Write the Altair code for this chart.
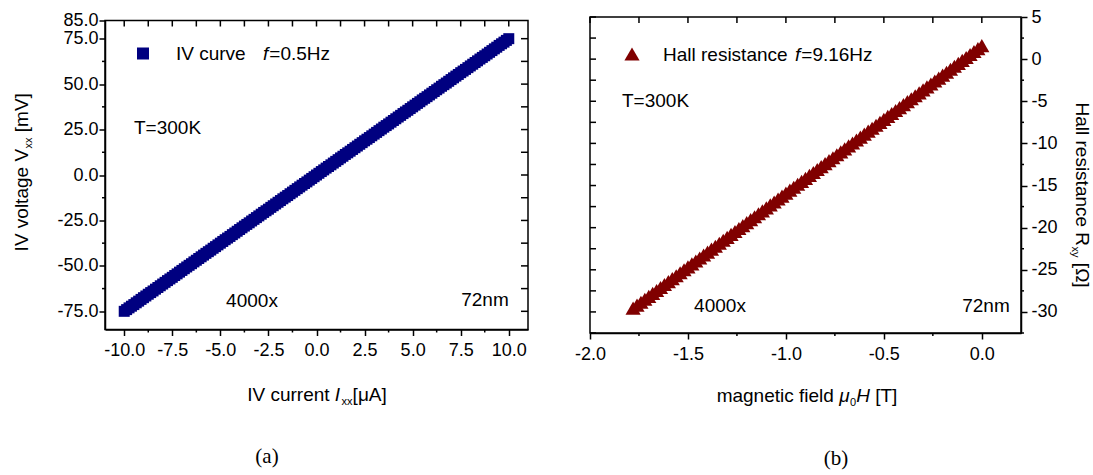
import altair as alt
import pandas as pd

# ---------------- data ----------------
# IV curve, up sweep
iv_current = [-10.0, -9.75, -9.5, -9.25, -9.0, -8.75, -8.5, -8.25, -8.0, -7.75,
              -7.5, -7.25, -7.0, -6.75, -6.5, -6.25, -6.0, -5.75, -5.5, -5.25,
              -5.0, -4.75, -4.5, -4.25, -4.0, -3.75, -3.5, -3.25, -3.0, -2.75,
              -2.5, -2.25, -2.0, -1.75, -1.5, -1.25, -1.0, -0.75, -0.5, -0.25,
              0.0, 0.25, 0.5, 0.75, 1.0, 1.25, 1.5, 1.75, 2.0, 2.25,
              2.5, 2.75, 3.0, 3.25, 3.5, 3.75, 4.0, 4.25, 4.5, 4.75,
              5.0, 5.25, 5.5, 5.75, 6.0, 6.25, 6.5, 6.75, 7.0, 7.25,
              7.5, 7.75, 8.0, 8.25, 8.5, 8.75, 9.0, 9.25, 9.5, 9.75, 10.0]
iv_voltage = [-75.0, -73.1, -71.3, -69.4, -67.5, -65.6, -63.8, -61.9, -60.0, -58.1,
              -56.3, -54.4, -52.5, -50.6, -48.8, -46.9, -45.0, -43.1, -41.3, -39.4,
              -37.5, -35.6, -33.8, -31.9, -30.0, -28.1, -26.3, -24.4, -22.5, -20.6,
              -18.8, -16.9, -15.0, -13.1, -11.3, -9.4, -7.5, -5.6, -3.8, -1.9,
              0.0, 1.9, 3.8, 5.6, 7.5, 9.4, 11.3, 13.1, 15.0, 16.9,
              18.8, 20.6, 22.5, 24.4, 26.3, 28.1, 30.0, 31.9, 33.8, 35.6,
              37.5, 39.4, 41.3, 43.1, 45.0, 46.9, 48.8, 50.6, 52.5, 54.4,
              56.3, 58.1, 60.0, 61.9, 63.8, 65.6, 67.5, 69.4, 71.3, 73.1, 75.0]
# IV curve, down sweep
iv_current_dn = [9.875, 9.625, 9.375, 9.125, 8.875, 8.625, 8.375, 8.125, 7.875, 7.625,
                 7.375, 7.125, 6.875, 6.625, 6.375, 6.125, 5.875, 5.625, 5.375, 5.125,
                 4.875, 4.625, 4.375, 4.125, 3.875, 3.625, 3.375, 3.125, 2.875, 2.625,
                 2.375, 2.125, 1.875, 1.625, 1.375, 1.125, 0.875, 0.625, 0.375, 0.125,
                 -0.125, -0.375, -0.625, -0.875, -1.125, -1.375, -1.625, -1.875, -2.125, -2.375,
                 -2.625, -2.875, -3.125, -3.375, -3.625, -3.875, -4.125, -4.375, -4.625, -4.875,
                 -5.125, -5.375, -5.625, -5.875, -6.125, -6.375, -6.625, -6.875, -7.125, -7.375,
                 -7.625, -7.875, -8.125, -8.375, -8.625, -8.875, -9.125, -9.375, -9.625, -9.875]
iv_voltage_dn = [74.06, 72.19, 70.31, 68.44, 66.56, 64.69, 62.81, 60.94, 59.06, 57.19,
                 55.31, 53.44, 51.56, 49.69, 47.81, 45.94, 44.06, 42.19, 40.31, 38.44,
                 36.56, 34.69, 32.81, 30.94, 29.06, 27.19, 25.31, 23.44, 21.56, 19.69,
                 17.81, 15.94, 14.06, 12.19, 10.31, 8.44, 6.56, 4.69, 2.81, 0.94,
                 -0.94, -2.81, -4.69, -6.56, -8.44, -10.31, -12.19, -14.06, -15.94, -17.81,
                 -19.69, -21.56, -23.44, -25.31, -27.19, -29.06, -30.94, -32.81, -34.69, -36.56,
                 -38.44, -40.31, -42.19, -44.06, -45.94, -47.81, -49.69, -51.56, -53.44, -55.31,
                 -57.19, -59.06, -60.94, -62.81, -64.69, -66.56, -68.44, -70.31, -72.19, -74.06]

hall_field = [-1.78, -1.76, -1.74, -1.72, -1.70, -1.68, -1.66, -1.64, -1.62, -1.60,
              -1.58, -1.56, -1.54, -1.52, -1.50, -1.48, -1.46, -1.44, -1.42, -1.40,
              -1.38, -1.36, -1.34, -1.32, -1.30, -1.28, -1.26, -1.24, -1.22, -1.20,
              -1.18, -1.16, -1.14, -1.12, -1.10, -1.08, -1.06, -1.04, -1.02, -1.00,
              -0.98, -0.96, -0.94, -0.92, -0.90, -0.88, -0.86, -0.84, -0.82, -0.80,
              -0.78, -0.76, -0.74, -0.72, -0.70, -0.68, -0.66, -0.64, -0.62, -0.60,
              -0.58, -0.56, -0.54, -0.52, -0.50, -0.48, -0.46, -0.44, -0.42, -0.40,
              -0.38, -0.36, -0.34, -0.32, -0.30, -0.28, -0.26, -0.24, -0.22, -0.20,
              -0.18, -0.16, -0.14, -0.12, -0.10, -0.08, -0.06, -0.04, -0.02, 0.00]
hall_res = [-29.55, -29.2, -28.85, -28.5, -28.15, -27.8, -27.45, -27.1, -26.75, -26.4,
            -26.05, -25.7, -25.35, -25.0, -24.65, -24.3, -23.95, -23.6, -23.25, -22.9,
            -22.55, -22.2, -21.85, -21.5, -21.15, -20.8, -20.45, -20.1, -19.75, -19.4,
            -19.05, -18.7, -18.35, -18.0, -17.65, -17.3, -16.95, -16.6, -16.25, -15.9,
            -15.55, -15.2, -14.85, -14.5, -14.15, -13.8, -13.45, -13.1, -12.75, -12.4,
            -12.05, -11.7, -11.35, -11.0, -10.65, -10.3, -9.95, -9.6, -9.25, -8.9,
            -8.55, -8.2, -7.85, -7.5, -7.15, -6.8, -6.45, -6.1, -5.75, -5.4,
            -5.05, -4.7, -4.35, -4.0, -3.65, -3.3, -2.95, -2.6, -2.25, -1.9,
            -1.55, -1.2, -0.85, -0.5, -0.15, 0.2, 0.55, 0.9, 1.25, 1.6]

# ---------------- tick values ----------------
iv_x_major = [-10.0, -7.5, -5.0, -2.5, 0.0, 2.5, 5.0, 7.5, 10.0]
iv_x_minor = [-8.75, -6.25, -3.75, -1.25, 1.25, 3.75, 6.25, 8.75]
iv_y_major = [-75.0, -50.0, -25.0, 0.0, 25.0, 50.0, 75.0, 85.0]
iv_y_minor = [-62.5, -37.5, -12.5, 12.5, 37.5, 62.5]
hall_x_major = [-2.0, -1.5, -1.0, -0.5, 0.0]
hall_x_minor = [-1.75, -1.25, -0.75, -0.25]
hall_y_major = [5, 0, -5, -10, -15, -20, -25, -30]
hall_y_minor = [2.5, -2.5, -7.5, -12.5, -17.5, -22.5, -27.5, -32.5]

FONT = "Liberation Sans"
FS = 19
LFS = 18
SUB = 11
SP = 0.278 * FS
W1, H1 = 423, 309
W2, H2 = 431, 316


def txt(x, y, s, size=FS, italic=False, align="left", baseline="middle", angle=0, font=FONT):
    kw = dict(align=align, baseline=baseline, fontSize=size, font=font, color="black")
    if italic:
        kw["fontStyle"] = "italic"
    if angle:
        kw["angle"] = angle
    return alt.Chart(pd.DataFrame({"t": [s]})).mark_text(**kw).encode(
        x=alt.value(x), y=alt.value(y), text="t:N")


def xticks(values, scale, y1, y2):
    return alt.Chart(pd.DataFrame({"v": values})).mark_rule(color="black", strokeWidth=1.5).encode(
        x=alt.X("v:Q", scale=scale, axis=None), y=alt.value(y1), y2=alt.value(y2))


def yticks(values, scale, x1, x2):
    return alt.Chart(pd.DataFrame({"v": values})).mark_rule(color="black", strokeWidth=1.5).encode(
        y=alt.Y("v:Q", scale=scale, axis=None), x=alt.value(x1), x2=alt.value(x2))


# ---------------- panel (a) ----------------
xs1 = alt.Scale(domain=[-11, 11], nice=False, zero=False)
ys1 = alt.Scale(domain=[-85, 85], nice=False, zero=False)

iv_df = pd.DataFrame({"I": iv_current + iv_current_dn, "V": iv_voltage + iv_voltage_dn})
iv_pts = alt.Chart(iv_df).mark_square(size=121, color="#000080", opacity=1, filled=True).encode(
    x=alt.X("I:Q", scale=xs1, axis=alt.Axis(values=iv_x_major, format=".1f", title=None,
                                             tickSize=6, labelPadding=6)),
    y=alt.Y("V:Q", scale=ys1, axis=alt.Axis(values=iv_y_major, format=".1f", title=None,
                                             tickSize=6, labelPadding=1)),
)

iv_in_x = sorted(iv_x_major + iv_x_minor)
iv_in_y = sorted([v for v in iv_y_major if v != 85.0] + iv_y_minor)

w_a = 4.613 * FS
x0 = 212 - (w_a + 0.278 * FS + 1.5 + SUB + 1.799 * FS) / 2
xt_base = 380
w_b = 5.392 * FS
ytot = w_b + SUB + 2.334 * FS
y0 = 152 + ytot / 2

left = alt.layer(
    iv_pts,
    xticks(iv_x_minor, xs1, H1, H1 + 3),
    yticks(iv_y_minor, ys1, -3, 0),
    xticks(iv_in_x, xs1, 0, 6),
    yticks(iv_in_y, ys1, W1 - 7, W1),
    alt.Chart(pd.DataFrame({"a": [0]})).mark_square(size=144, color="#000080", opacity=1, filled=True).encode(
        x=alt.value(38), y=alt.value(33)),
    txt(71, 33, "IV curve"),
    txt(158, 33, "f", italic=True),
    txt(158 + 0.278 * FS + 1, 33, "=0.5Hz"),
    txt(29, 107, "T=300K"),
    txt(147, 280, "4000x", align="center"),
    txt(380, 279, "72nm", align="center"),
    txt(x0, xt_base, "IV current", baseline="alphabetic"),
    txt(x0 + w_a, xt_base, "I", italic=True, baseline="alphabetic"),
    txt(x0 + w_a + 0.278 * FS + 1.5, xt_base + 4, "xx", size=SUB, baseline="alphabetic"),
    txt(x0 + w_a + 0.278 * FS + 1.5 + SUB, xt_base, "[μA]", baseline="alphabetic"),
    txt(-77, y0, "IV voltage V", angle=270, baseline="alphabetic"),
    txt(-73, y0 - w_b - 0.5, "xx", size=SUB, angle=270, baseline="alphabetic"),
    txt(-77, y0 - w_b - 0.5 - SUB - SP, "[mV]", angle=270, baseline="alphabetic"),
    txt(162, 436, "(a)", size=21, align="center", font="Liberation Serif"),
).resolve_axis(x="independent", y="independent").properties(width=W1, height=H1)

# ---------------- panel (b) ----------------
xs2 = alt.Scale(domain=[-2, 0.2], nice=False, zero=False)
ys2 = alt.Scale(domain=[-32.5, 5], nice=False, zero=False)

hall_df = pd.DataFrame({"B": hall_field, "R": hall_res})
hall_pts = alt.Chart(hall_df).mark_point(shape="triangle-up", size=230, color="#800000",
                                         opacity=1, filled=True).encode(
    x=alt.X("B:Q", scale=xs2, axis=alt.Axis(values=hall_x_major, format=".1f", title=None,
                                             tickSize=6, labelPadding=6)),
    y=alt.Y("R:Q", scale=ys2, axis=alt.Axis(orient="right", values=hall_y_major, format="d",
                                             title=None, tickSize=6, labelPadding=4)),
)

hall_in_x = sorted(hall_x_major + hall_x_minor)
hall_in_y = sorted(hall_y_major + hall_y_minor)

w_c = 6.447 * FS
w_mu = 0.576 * FS
w_H = 0.722 * FS
xtot2 = w_c + w_mu + 0.556 * SUB + w_H + 1.445 * FS
x2 = 217 - xtot2 / 2
xt2 = 385
w_d = 6.835 * FS
w_R = 0.722 * FS
ytot2 = w_d + w_R + SUB + 1.602 * FS
y2 = 178 - ytot2 / 2

right = alt.layer(
    hall_pts,
    xticks(hall_x_minor, xs2, H2, H2 + 3),
    yticks(hall_y_minor, ys2, W2, W2 + 3),
    xticks(hall_in_x, xs2, 0, 6),
    yticks(hall_in_y, ys2, 0, 6),
    alt.Chart(pd.DataFrame({"a": [0]})).mark_point(shape="triangle-up", size=230, color="#800000",
                                                    opacity=1, filled=True).encode(
        x=alt.value(42), y=alt.value(37)),
    txt(73, 38, "Hall resistance"),
    txt(205, 38, "f", italic=True),
    txt(205 + 0.278 * FS + 1, 38, "=9.16Hz"),
    txt(32, 84, "T=300K"),
    txt(130, 289, "4000x", align="center"),
    txt(396, 289, "72nm", align="center"),
    txt(x2, xt2, "magnetic field", baseline="alphabetic"),
    txt(x2 + w_c, xt2, "μ", italic=True, baseline="alphabetic"),
    txt(x2 + w_c + w_mu, xt2 + 4, "0", size=SUB, baseline="alphabetic"),
    txt(x2 + w_c + w_mu + 0.556 * SUB, xt2, "H", italic=True, baseline="alphabetic"),
    txt(x2 + w_c + w_mu + 0.556 * SUB + w_H + SP, xt2, "[T]", baseline="alphabetic"),
    txt(486, y2, "Hall resistance", angle=90, baseline="alphabetic"),
    txt(486, y2 + w_d, "R", angle=90, baseline="alphabetic"),
    txt(482, y2 + w_d + w_R + 0.5, "xy", size=SUB, angle=90, baseline="alphabetic"),
    txt(486, y2 + w_d + w_R + 0.5 + SUB + SP, "[Ω]", angle=90, baseline="alphabetic"),
    txt(246, 442, "(b)", size=21, align="center", font="Liberation Serif"),
).resolve_axis(x="independent", y="independent").properties(width=W2, height=H2)

chart = alt.hconcat(left, right, spacing=62, bounds="flush", center=True).properties(
    padding={"left": 12, "top": 7, "right": 0, "bottom": 0}
).configure(
    locale={"number": {"decimal": ".", "thousands": ",", "grouping": [3],
                       "currency": ["$", ""], "minus": "-"}}
).configure_view(stroke="black", strokeWidth=1.5).configure_axis(
    labelFont=FONT, labelFontSize=LFS, labelColor="black", tickColor="black",
    domainColor="black", tickWidth=1.5, domainWidth=1.5, labelOverlap=False,
    labelFlush=False, grid=False
)

chart.save("out.html", embed_options={"renderer": "svg", "actions": False})
